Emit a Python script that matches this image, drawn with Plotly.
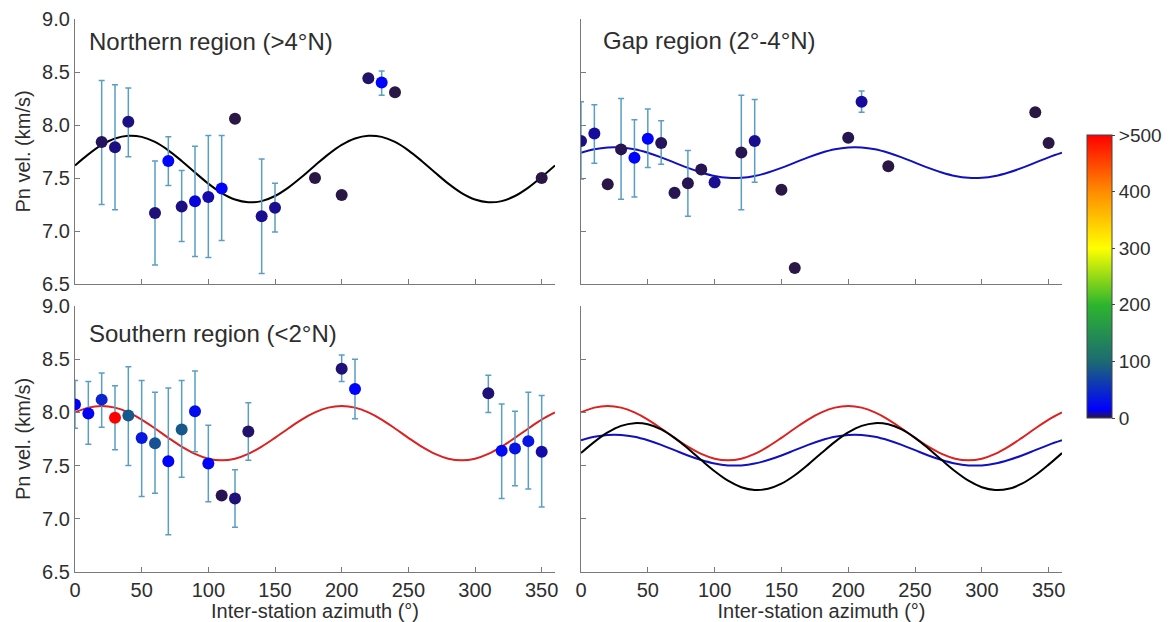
import plotly.graph_objects as go

# ---------------- data ----------------
# Northern region (>4°N)
north_az   = [20, 30, 40, 60, 70, 80, 90, 100, 110, 120, 140, 150, 180, 200, 220, 230, 240, 350]
north_vel  = [7.84, 7.79, 8.03, 7.17, 7.66, 7.23, 7.28, 7.32, 7.40, 8.06, 7.14, 7.22, 7.50, 7.34, 8.44, 8.40, 8.31, 7.50]
north_hi   = [8.42, 8.38, 8.35, 7.66, 7.89, 7.57, 7.80, 7.90, 7.90, None, 7.68, 7.45, None, None, None, 8.51, None, None]
north_lo   = [7.25, 7.20, 7.70, 6.68, 7.43, 6.90, 6.76, 6.75, 6.91, None, 6.60, 6.99, None, None, None, 8.28, None, None]
north_n    = [2, 5, 5, 4, 18, 5, 12, 8, 18, 0, 6, 6, 0, 0, 3, 18, 0, 0]

# Gap region (2°-4°N)
gap_az  = [0, 10, 20, 30, 40, 50, 60, 70, 80, 90, 100, 120, 130, 150, 160, 200, 210, 230, 340, 350]
gap_vel = [7.85, 7.92, 7.44, 7.77, 7.69, 7.87, 7.83, 7.36, 7.45, 7.58, 7.46, 7.74, 7.85, 7.39, 6.65, 7.88, 8.22, 7.61, 8.12, 7.83]
gap_hi  = [8.22, 8.19, None, 8.25, 8.05, 8.15, 8.04, 7.40, 7.76, None, 7.49, 8.28, 8.24, None, None, None, 8.32, None, None, None]
gap_lo  = [7.49, 7.64, None, 7.30, 7.32, 7.60, 7.63, 7.31, 7.14, None, 7.41, 7.20, 7.46, None, None, None, 8.12, None, None, None]
gap_n   = [5, 7, 0, 1, 18, 18, 2, 1, 1, 1, 6, 1, 6, 0, 0, 1, 7, 0, 0, 0]

# Southern region (<2°N)
south_az  = [0, 10, 20, 30, 40, 50, 60, 70, 80, 90, 100, 110, 120, 130, 200, 210, 310, 320, 330, 340, 350]
south_vel = [8.075, 7.99, 8.12, 7.95, 7.97, 7.76, 7.71, 7.54, 7.84, 8.01, 7.52, 7.22, 7.19, 7.82, 8.41, 8.22, 8.18, 7.64, 7.66, 7.73, 7.63]
south_hi  = [8.30, 8.29, 8.37, 8.25, 8.43, 8.30, 8.19, 8.23, 8.30, 8.39, 7.88, None, 7.46, 8.09, 8.54, 8.50, 8.35, 8.08, 8.01, 8.19, 8.16]
south_lo  = [7.85, 7.70, 7.86, 7.65, 7.50, 7.21, 7.24, 6.85, 7.39, 7.63, 7.16, None, 6.92, 7.55, 8.29, 7.94, 8.00, 7.19, 7.31, 7.28, 7.11]
south_n   = [16, 14, 45, 500, 85, 35, 80, 16, 85, 25, 18, 1, 4, 3, 4, 18, 4, 22, 32, 32, 8]

# Fitted cos(2θ) curves, read every 10°
curve_az = list(range(0, 361, 10))
north_curve = [7.618, 7.723, 7.812, 7.873, 7.899, 7.888, 7.840, 7.761, 7.661, 7.552, 7.447, 7.358, 7.297,
               7.271, 7.282, 7.330, 7.409, 7.509, 7.618, 7.723, 7.812, 7.873, 7.899, 7.888, 7.840, 7.761,
               7.661, 7.552, 7.447, 7.358, 7.297, 7.271, 7.282, 7.330, 7.409, 7.509, 7.618]
gap_curve = [7.738, 7.771, 7.788, 7.788, 7.771, 7.738, 7.695, 7.645, 7.595, 7.552, 7.519, 7.502, 7.502,
             7.519, 7.552, 7.595, 7.645, 7.695, 7.738, 7.771, 7.788, 7.788, 7.771, 7.738, 7.695, 7.645,
             7.595, 7.552, 7.519, 7.502, 7.502, 7.519, 7.552, 7.595, 7.645, 7.695, 7.738]
south_curve = [8.000, 8.045, 8.060, 8.045, 8.000, 7.933, 7.849, 7.761, 7.678, 7.610, 7.565, 7.550, 7.565,
               7.610, 7.678, 7.761, 7.849, 7.933, 8.000, 8.045, 8.060, 8.045, 8.000, 7.933, 7.849, 7.761,
               7.678, 7.610, 7.565, 7.550, 7.565, 7.610, 7.678, 7.761, 7.849, 7.933, 8.000]

x_ticks = [0, 50, 100, 150, 200, 250, 300, 350]
y_ticks = [6.5, 7.0, 7.5, 8.0, 8.5, 9.0]
cbar_vals = [0, 100, 200, 300, 400, 500]
cbar_text = ["0", "100", "200", "300", "400", ">500"]

titles = ["Northern region (>4°N)", "Gap region (2°-4°N)", "Southern region (<2°N)"]

# ---------------- style ----------------
FONT = "Arial, Liberation Sans, sans-serif"
TXT = "#2e2e2e"
AX = "#7a7a7a"
ERR = "#5a9ec4"
colorscale = [
    [0.0, "#2a1745"],
    [0.03, "#0000ff"],
    [0.2, "#1d6a72"],
    [0.4, "#2db52d"],
    [0.6, "#ffff00"],
    [0.8, "#ff8c00"],
    [1.0, "#ff0000"],
]
CURVE_COL = {"north": "#000000", "gap": "#1010c0", "south": "#dd2020"}

W, H = 1170, 622
def px_x(a, b):
    return [a / W, b / W]
def px_y(top, bot):
    return [1 - bot / H, 1 - top / H]

fig = go.Figure()

axes = {
    "x": dict(domain=px_x(75, 555), anchor="y"),
    "x2": dict(domain=px_x(581, 1062), anchor="y2"),
    "x3": dict(domain=px_x(75, 555), anchor="y3"),
    "x4": dict(domain=px_x(581, 1062), anchor="y4"),
}
yaxes = {
    "y": dict(domain=px_y(19, 284), anchor="x"),
    "y2": dict(domain=px_y(19, 284), anchor="x2"),
    "y3": dict(domain=px_y(306, 572), anchor="x3"),
    "y4": dict(domain=px_y(306, 572), anchor="x4"),
}


def add_panel(xa, ya, az, vel, hi, lo, n, curve, col, showscale=False):
    fig.add_trace(go.Scatter(x=curve_az, y=curve, mode="lines", line=dict(color=col, width=2, shape="spline"),
                             xaxis=xa, yaxis=ya, showlegend=False, hoverinfo="skip"))
    ex, ey, eup, edn = [], [], [], []
    for a, v, h, l in zip(az, vel, hi, lo):
        if h is not None:
            ex.append(a); ey.append(v); eup.append(h - v); edn.append(v - l)
    fig.add_trace(go.Scatter(x=ex, y=ey, mode="markers", marker=dict(size=1, opacity=0),
                             error_y=dict(type="data", symmetric=False, array=eup, arrayminus=edn,
                                          color=ERR, thickness=1.5, width=3),
                             xaxis=xa, yaxis=ya, showlegend=False, hoverinfo="skip"))
    mk = dict(size=12, color=n, colorscale=colorscale, cmin=0, cmax=500, line=dict(width=0))
    if showscale:
        mk.update(showscale=True, colorbar=dict(
            x=1087 / W, xanchor="left", xpad=0, y=1 - 276.5 / H, yanchor="middle", ypad=0,
            len=283 / H, lenmode="fraction", thickness=25, thicknessmode="pixels",
            tickvals=cbar_vals, ticktext=cbar_text, ticks="outside", ticklen=3,
            tickfont=dict(family=FONT, size=19, color=TXT), outlinewidth=1, outlinecolor="#444"))
    fig.add_trace(go.Scatter(x=az, y=vel, mode="markers", marker=mk,
                             xaxis=xa, yaxis=ya, showlegend=False))


add_panel("x", "y", north_az, north_vel, north_hi, north_lo, north_n, north_curve, CURVE_COL["north"])
add_panel("x2", "y2", gap_az, gap_vel, gap_hi, gap_lo, gap_n, gap_curve, CURVE_COL["gap"])
add_panel("x3", "y3", south_az, south_vel, south_hi, south_lo, south_n, south_curve, CURVE_COL["south"], showscale=True)

for name, crv in (("south", south_curve), ("gap", gap_curve), ("north", north_curve)):
    fig.add_trace(go.Scatter(x=curve_az, y=crv, mode="lines", line=dict(color=CURVE_COL[name], width=2, shape="spline"),
                             xaxis="x4", yaxis="y4", showlegend=False, hoverinfo="skip"))

layout_axes = {}
for i, key in enumerate(["x", "x2", "x3", "x4"]):
    lk = "xaxis" if key == "x" else "xaxis" + key[1:]
    d = dict(axes[key], range=[0, 360], tickvals=x_ticks, ticks="inside", ticklen=5, tickcolor=AX,
             showline=True, linecolor=AX, linewidth=1.3, showgrid=False, zeroline=False, mirror=False,
             automargin=False,
             showticklabels=key in ("x3", "x4"), tickfont=dict(family=FONT, size=20, color=TXT))
    if key in ("x3", "x4"):
        d["title"] = dict(text="Inter-station azimuth (°)", font=dict(family=FONT, size=20, color=TXT), standoff=0)
    layout_axes[lk] = d
for key in ["y", "y2", "y3", "y4"]:
    lk = "yaxis" if key == "y" else "yaxis" + key[1:]
    d = dict(yaxes[key], range=[6.5, 9.0], tickvals=y_ticks, tickformat=".1f", ticks="inside", ticklen=5,
             tickcolor=AX, showline=True, linecolor=AX, linewidth=1.3, showgrid=False, zeroline=False,
             automargin=False,
             showticklabels=key in ("y", "y3"), tickfont=dict(family=FONT, size=20, color=TXT))
    if key in ("y", "y3"):
        d["title"] = dict(text="Pn vel. (km/s)", font=dict(family=FONT, size=20, color=TXT), standoff=6)
    layout_axes[lk] = d

annotations = [
    dict(text=titles[0], x=87 / W, y=1 - 42 / H, xref="paper", yref="paper", xanchor="left", yanchor="middle",
         showarrow=False, font=dict(family=FONT, size=24, color=TXT)),
    dict(text=titles[1], x=601 / W, y=1 - 40 / H, xref="paper", yref="paper", xanchor="left", yanchor="middle",
         showarrow=False, font=dict(family=FONT, size=24, color=TXT)),
    dict(text=titles[2], x=87 / W, y=1 - 333 / H, xref="paper", yref="paper", xanchor="left", yanchor="middle",
         showarrow=False, font=dict(family=FONT, size=24, color=TXT)),
]

fig.update_layout(width=W, height=H, margin=dict(l=0, r=0, t=0, b=0, autoexpand=False), paper_bgcolor="white",
                  plot_bgcolor="white", annotations=annotations, font=dict(family=FONT, color=TXT),
                  **layout_axes)

fig.write_html("out.html", config={"displayModeBar": False},
               post_script="document.body.style.margin='0';document.body.style.overflow='hidden';")
